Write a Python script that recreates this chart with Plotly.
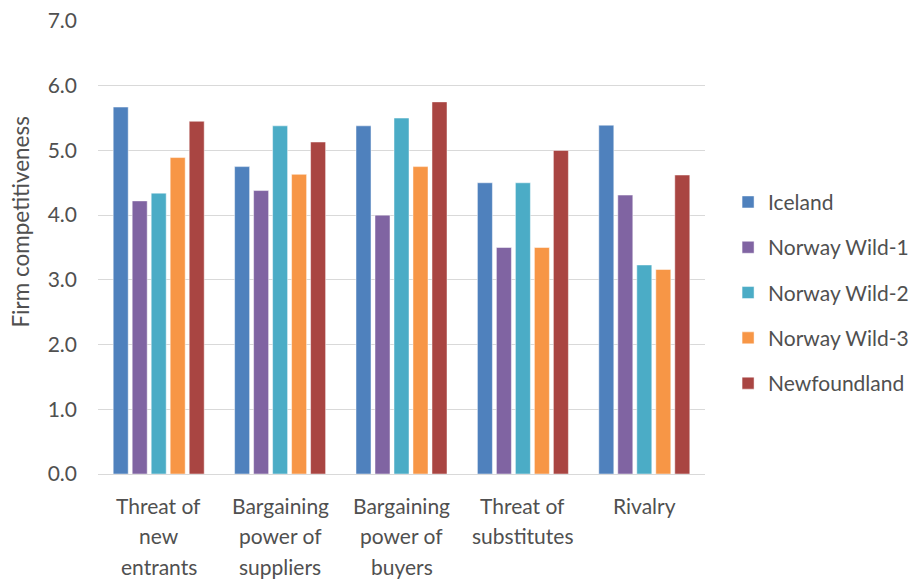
import plotly.graph_objects as go

# Five forces categories (each line of the axis label kept separately)
categories = ["Threat of new entrants", "Bargaining power of suppliers",
              "Bargaining power of buyers", "Threat of substitutes", "Rivalry"]
category_lines = [["Threat of", "new", "entrants"],
                  ["Bargaining", "power of", "suppliers"],
                  ["Bargaining", "power of", "buyers"],
                  ["Threat of", "substitutes"],
                  ["Rivalry"]]

iceland = [5.67, 4.75, 5.38, 4.50, 5.39]
norway_wild_1 = [4.22, 4.38, 4.00, 3.50, 4.31]
norway_wild_2 = [4.34, 5.38, 5.50, 4.50, 3.23]
norway_wild_3 = [4.89, 4.63, 4.75, 3.50, 3.16]
newfoundland = [5.45, 5.13, 5.75, 5.00, 4.62]

series_names = ["Iceland", "Norway Wild-1", "Norway Wild-2", "Norway Wild-3", "Newfoundland"]
series_values = [iceland, norway_wild_1, norway_wild_2, norway_wild_3, newfoundland]
series_colors = ["#4F81BD", "#8064A2", "#4BACC6", "#F79646", "#A94542"]

FONT = "Lato"
TEXT_COLOR = "#505050"
GRID_COLOR = "#D9D9D9"

fig = go.Figure()
for name, vals, color in zip(series_names, series_values, series_colors):
    fig.add_trace(go.Bar(
        x=categories, y=vals, name=name, legendgroup=name,
        marker=dict(color=color, line=dict(color="rgba(255,255,255,0.6)", width=0.8)),
    ))

# Multi-line category labels under the axis
annotations = []
line_offsets = [31, 61, 92]
for cat, lines in zip(categories, category_lines):
    for i, txt in enumerate(lines):
        annotations.append(dict(
            x=cat, xref="x", y=0, yref="paper", yanchor="middle",
            yshift=-line_offsets[i], text=txt, showarrow=False,
            font=dict(family=FONT, size=21, color=TEXT_COLOR),
        ))

# Y-axis title
annotations.append(dict(
    x=-0.127, xref="paper", y=0.557, yref="paper", text="Firm competitiveness",
    textangle=-90, showarrow=False, xanchor="center", yanchor="middle",
    font=dict(family=FONT, size=22.5, color=TEXT_COLOR),
))

fig.update_layout(
    width=916, height=580,
    margin=dict(l=98, r=211, t=21, b=106, autoexpand=False),
    paper_bgcolor="white", plot_bgcolor="white",
    barmode="group", bargap=0.2175, bargroupgap=0.21,
    font=dict(family=FONT, size=21, color=TEXT_COLOR),
    annotations=annotations,
    legend=dict(
        x=1.038, xanchor="left", xref="paper", y=0.40, yanchor="middle",
        font=dict(family=FONT, size=21, color=TEXT_COLOR),
        tracegroupgap=15, itemwidth=30, bgcolor="rgba(0,0,0,0)",
    ),
    xaxis=dict(
        showticklabels=False, showgrid=False, showline=True,
        linecolor=GRID_COLOR, linewidth=1.3, ticks="", zeroline=False,
    ),
    yaxis=dict(
        range=[0, 7], dtick=1, tickformat=".1f", showgrid=True,
        gridcolor=GRID_COLOR, gridwidth=1.3, zeroline=False, showline=False,
        ticks="", ticklabelstandoff=20,
        tickfont=dict(family=FONT, size=21, color=TEXT_COLOR),
    ),
)

fig.write_html("out.html")
